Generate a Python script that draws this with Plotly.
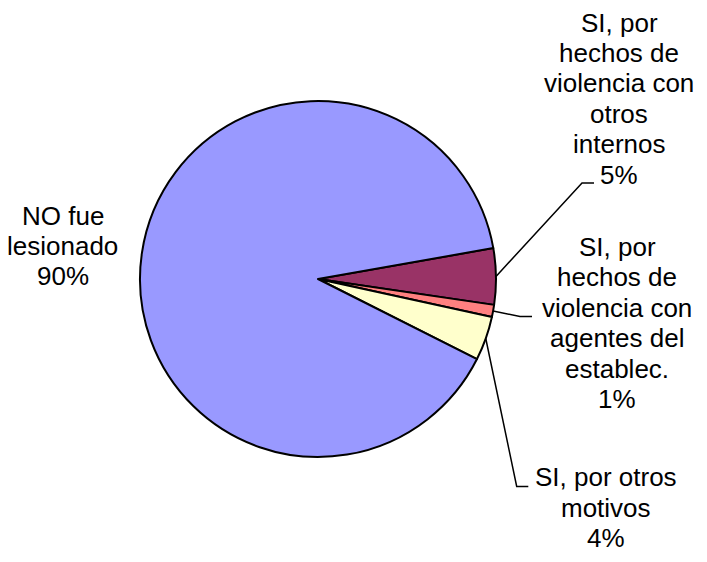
import math
import plotly.graph_objects as go

W, H = 707, 562
OFF = 8  # page body margin offset in the browser

labels = ["SI, por hechos de violencia con otros internos",
          "SI, por hechos de violencia con agentes del establec.",
          "SI, por otros motivos",
          "NO fue lesionado"]
values = [5.1, 1.1, 4.0, 89.8]
label_lines = [
    ["SI, por", "hechos de", "violencia con", "otros", "internos", "5%"],
    ["SI, por", "hechos de", "violencia con", "agentes del", "establec.", "1%"],
    ["SI, por otros", "motivos", "4%"],
    ["NO fue", "lesionado", "90%"],
]
colors = ["#993366", "#FF8080", "#FFFFCC", "#9999FF"]

# layout geometry (pixels, in screenshot coordinates)
cx, cy, r = 318, 279, 178
start_deg = 10.0  # first slice starts 10 deg above 3 o'clock
label_x = [619, 617, 606, 63]
label_first_baseline = [31.7, 256.0, 486.5, 224.5]
LINE_SPACING = 30.4
elbows = [((582, 183), (594, 183)),
          ((520, 316.5), (532, 316.5)),
          ((516.7, 486.5), (528.3, 486.5)),
          None]

FONT = dict(family="Liberation Sans, Arial", size=26, color="black")


def px(x):
    return (x - OFF) / W


def py(y):
    return 1 - (y - OFF) / H


fig = go.Figure(go.Pie(
    labels=labels, values=values, sort=False, direction="clockwise",
    rotation=90 - start_deg,
    marker=dict(colors=colors, line=dict(color="black", width=2)),
    textinfo="none", hoverinfo="label+percent", showlegend=False,
    domain=dict(x=[px(cx - r), px(cx + r)],
                y=[py(cy + r), py(cy - r)]),
))

total = sum(values)
annotations = []
shapes = []
cum = 0.0
for i, v in enumerate(values):
    mid = start_deg - (cum + v / 2) / total * 360
    cum += v
    for k, line in enumerate(label_lines[i]):
        base = label_first_baseline[i] + k * LINE_SPACING
        annotations.append(dict(
            x=px(label_x[i]), y=py(base - 9), xref="paper", yref="paper",
            text=line, showarrow=False, xanchor="center", yanchor="middle",
            font=FONT))
    if elbows[i] is not None:
        ex = cx + r * math.cos(math.radians(mid))
        ey = cy - r * math.sin(math.radians(mid))
        (bx, by), (tx, ty) = elbows[i]
        path = f"M {px(ex)} {py(ey)} L {px(bx)} {py(by)} L {px(tx)} {py(ty)}"
        shapes.append(dict(type="path", xref="paper", yref="paper", path=path,
                           line=dict(color="black", width=1.5)))

fig.update_layout(
    width=W, height=H, margin=dict(l=0, r=0, t=0, b=0),
    paper_bgcolor="white", plot_bgcolor="white",
    annotations=annotations, shapes=shapes,
)

fig.write_html("out.html")
